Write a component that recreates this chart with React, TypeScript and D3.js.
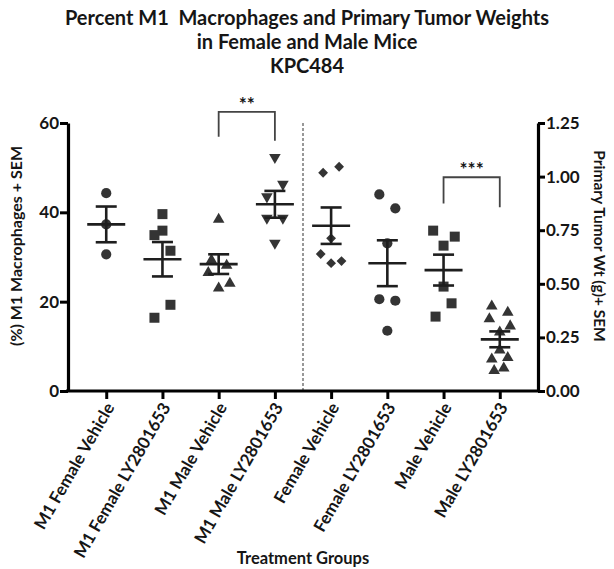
import React, { useEffect, useRef } from "react";
import * as d3 from "d3";

// ---------- data ----------
const titleLines = [
  "Percent M1  Macrophages and Primary Tumor Weights",
  "in Female and Male Mice",
  "KPC484",
];
const categories = [
  "M1 Female Vehicle",
  "M1 Female LY2801653",
  "M1 Male Vehicle",
  "M1 Male LY2801653",
  "Female Vehicle",
  "Female LY2801653",
  "Male Vehicle",
  "Male LY2801653",
];
// which axis each group belongs to
const groupAxis = ["left", "left", "left", "left", "right", "right", "right", "right"];
const groupSymbol = ["circle", "square", "triangle", "triangleDown", "diamond", "circle", "square", "triangle"];

// individual values per group
const g1Values = [44.3, 37.3, 30.6];
const g2Values = [39.6, 35.9, 34.9, 31.4, 19.3, 16.4];
const g3Values = [38.4, 29.3, 28.1, 26.5, 23.0, 24.1];
const g4Values = [52.3, 46.3, 43.5, 38.7, 38.7, 33.1];
const g5Values = [1.018, 1.046, 0.712, 0.639, 0.596, 0.606];
const g6Values = [0.917, 0.852, 0.689, 0.428, 0.421, 0.281];
const g7Values = [0.748, 0.72, 0.678, 0.487, 0.409, 0.347];
const g8Values = [0.396, 0.367, 0.336, 0.303, 0.274, 0.191, 0.148, 0.155, 0.095, 0.106];
// horizontal slot of each point in the scatter column (-1 left, 0 centre, 1 right)
const g1Slots = [0, 0, 0];
const g2Slots = [0, 0, -1, 1, 1, -1];
const g3Slots = [0, -0.9, 1, -1.3, 0, 1.4];
const g4Slots = [0, 1, -1, -1, 1, 0];
const g5Slots = [-1, 1, 0, -1.3, 0, 1.3];
const g6Slots = [-1, 1, 0, -1, 1, 0];
const g7Slots = [-1.3, 1.4, 0, 0, 1, -1];
const g8Slots = [-1, 1, -1.3, 1.3, 0, 0, -1, 1, -0.7, 0.5];

const groupValues = [g1Values, g2Values, g3Values, g4Values, g5Values, g6Values, g7Values, g8Values];
const groupSlots = [g1Slots, g2Slots, g3Slots, g4Slots, g5Slots, g6Slots, g7Slots, g8Slots];

const means = [37.3, 29.5, 28.4, 41.8, 0.771, 0.596, 0.564, 0.241];
const sems = [4.0, 3.85, 2.2, 3.0, 0.085, 0.107, 0.072, 0.037];

const leftTicks = [0, 20, 40, 60];
const rightTicks = [0, 0.25, 0.5, 0.75, 1.0, 1.25];

const brackets = [
  { from: 2, to: 3, axis: "left", top: 62.5, legFrom: 56.9, legTo: 56.0, label: "**" },
  { from: 6, to: 7, axis: "right", top: 0.997, legFrom: 0.875, legTo: 0.857, label: "***" },
];

const leftTitle = "(%) M1 Macrophages + SEM";
const rightTitle = "Primary Tumor Wt (g)+ SEM";
const xTitle = "Treatment Groups";

// ---------- layout ----------
const W = 614;
const H = 569;
const plotLeft = 68;
const plotRight = 538;
const plotTop = 123;
const plotBottom = 391;
const FONT = "Lato, 'Open Sans', sans-serif";
const INK = "#161616";
const MARK = "#343434";

export default function App() {
  const axRef = useRef<SVGGElement>(null);

  const x = d3.scalePoint<string>().domain(categories).range([plotLeft, plotRight]).padding(0.68);
  const yL = d3.scaleLinear().domain([0, 60]).range([plotBottom, plotTop]);
  const yR = d3.scaleLinear().domain([0, 1.25]).range([plotBottom, plotTop]);
  const yFor = (i: number) => (groupAxis[i] === "left" ? yL : yR);

  const symbolPath = (name: string) => {
    switch (name) {
      case "circle":
        return d3.symbol(d3.symbolCircle, 82)();
      case "square":
        return d3.symbol(d3.symbolSquare, 100)();
      case "triangle":
      case "triangleDown":
        return d3.symbol(d3.symbolTriangle, 58)();
      case "diamond":
        return d3.symbol(d3.symbolSquare, 48)();
      default:
        return d3.symbol(d3.symbolCircle, 80)();
    }
  };
  const symbolRotate = (name: string) =>
    name === "triangleDown" ? 180 : name === "diamond" ? 45 : 0;

  useEffect(() => {
    const g = d3.select(axRef.current);
    g.selectAll("*").remove();
    const style = (sel: any) => {
      sel.selectAll("path.domain").attr("stroke", "#000").attr("stroke-width", 3.2);
      sel.selectAll(".tick line").attr("stroke", "#000").attr("stroke-width", 3);
      sel
        .selectAll(".tick text")
        .attr("font-family", FONT)
        .attr("font-weight", 700)
        .attr("font-size", 17)
        .attr("fill", INK);
    };
    const left = g
      .append("g")
      .attr("transform", `translate(${plotLeft},0)`)
      .call(d3.axisLeft(yL).tickValues(leftTicks).tickSizeInner(8).tickSizeOuter(0).tickPadding(1));
    style(left);
    const right = g
      .append("g")
      .attr("transform", `translate(${plotRight},0)`)
      .call(
        d3
          .axisRight(yR)
          .tickValues(rightTicks)
          .tickFormat(d3.format(".2f"))
          .tickSizeInner(7)
          .tickSizeOuter(0)
          .tickPadding(1)
      );
    style(right);
    const bottom = g
      .append("g")
      .attr("transform", `translate(0,${plotBottom})`)
      .call(d3.axisBottom(x).tickSizeInner(8).tickSizeOuter(0).tickFormat(() => ""));
    style(bottom);
    bottom.select("path.domain").attr("d", `M${plotLeft - 2},0H${plotRight + 2}`);
  }, []);

  const dashX = ((x(categories[3]) as number) + (x(categories[4]) as number)) / 2;

  return (
    <div style={{ position: "absolute", left: 0, top: 0, width: W, height: H, background: "#fff" }}>
      <svg width={W} height={H} style={{ display: "block" }}>
        <rect width={W} height={H} fill="#fff" />
        {titleLines.map((t, i) => (
          <text
            key={i}
            x={W / 2}
            y={25 + i * 24}
            textAnchor="middle"
            fontFamily={FONT}
            fontWeight={700}
            fontSize={20}
            fill={INK}
            style={{ whiteSpace: "pre" }}
          >
            {t}
          </text>
        ))}

        {/* dashed separator */}
        <line x1={dashX} x2={dashX} y1={plotTop} y2={plotBottom} stroke="#777" strokeWidth={1.5} strokeDasharray="3,2" />

        {/* points */}
        {groupValues.map((vals, gi) =>
          vals.map((v, pi) => {
            const cx = (x(categories[gi]) as number) + groupSlots[gi][pi] * 8;
            const cy = yFor(gi)(v);
            return (
              <path
                key={`${gi}-${pi}`}
                d={symbolPath(groupSymbol[gi]) as string}
                transform={`translate(${cx},${cy}) rotate(${symbolRotate(groupSymbol[gi])})`}
                fill={MARK}
              />
            );
          })
        )}

        {/* mean and SEM */}
        {means.map((m, gi) => {
          const cx = x(categories[gi]) as number;
          const y = yFor(gi);
          const yTop = y(m + sems[gi]);
          const yBot = y(m - sems[gi]);
          return (
            <g key={gi} stroke="#1e1e1e" strokeWidth={2.6} fill="none">
              <line x1={cx - 19} x2={cx + 19} y1={y(m)} y2={y(m)} />
              <line x1={cx} x2={cx} y1={yTop} y2={yBot} />
              <line x1={cx - 10.5} x2={cx + 10.5} y1={yTop} y2={yTop} />
              <line x1={cx - 10.5} x2={cx + 10.5} y1={yBot} y2={yBot} />
            </g>
          );
        })}

        {/* significance brackets */}
        {brackets.map((b, i) => {
          const y = b.axis === "left" ? yL : yR;
          const x1 = x(categories[b.from]) as number;
          const x2 = x(categories[b.to]) as number;
          return (
            <g key={i}>
              <path
                d={`M${x1},${y(b.legFrom)}V${y(b.top)}H${x2}V${y(b.legTo)}`}
                fill="none"
                stroke="#444"
                strokeWidth={1.8}
              />
              <text
                x={(x1 + x2) / 2}
                y={y(b.top) - 1}
                textAnchor="middle"
                fontFamily={FONT}
                fontWeight={700}
                fontSize={19}
                fill={INK}
              >
                {b.label}
              </text>
            </g>
          );
        })}

        <g ref={axRef} />

        {/* x category labels */}
        {categories.map((c) => {
          const cx = x(c) as number;
          return (
            <text
              key={c}
              transform={`translate(${cx + 5},${plotBottom + 14}) rotate(-60)`}
              textAnchor="end"
              dominantBaseline="middle"
              fontFamily={FONT}
              fontWeight={700}
              fontSize={17}
              fill={INK}
            >
              {c}
            </text>
          );
        })}

        {/* axis titles */}
        <text
          transform={`translate(22,246) rotate(-90)`}
          textAnchor="middle"
          fontFamily={FONT}
          fontWeight={700}
          fontSize={16}
          fill={INK}
        >
          {leftTitle}
        </text>
        <text
          transform={`translate(594,246) rotate(90)`}
          textAnchor="middle"
          fontFamily={FONT}
          fontWeight={700}
          fontSize={15.5}
          fill={INK}
        >
          {rightTitle}
        </text>
        <text x={303} y={564} textAnchor="middle" fontFamily={FONT} fontWeight={700} fontSize={16.5} fill={INK}>
          {xTitle}
        </text>
      </svg>
    </div>
  );
}
